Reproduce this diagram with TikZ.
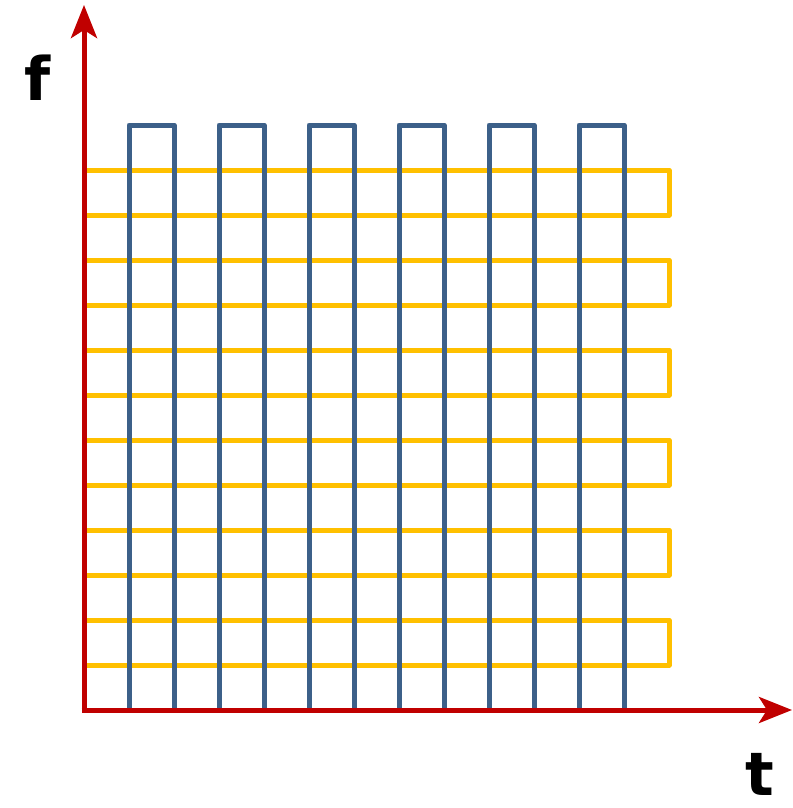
\documentclass[tikz,border=0pt]{standalone}
\usepackage{fontspec}
\setmainfont{DejaVu Sans}
\usetikzlibrary{arrows.meta}
\definecolor{axisred}{HTML}{C00000}
\definecolor{gridblue}{HTML}{3C6089}
\definecolor{gridyellow}{HTML}{FFC000}
\begin{document}
\begin{tikzpicture}[x=1pt,y=-1pt,
  axisline/.style={draw=axisred,line width=5pt,-{Stealth[length=33pt,width=26pt,inset=8pt]}},
  blueline/.style={draw=gridblue,line width=5pt,line join=round},
  yellowline/.style={draw=gridyellow,line width=5pt,line join=round},
  axislabel/.style={font=\fontsize{60}{60}\selectfont\bfseries,inner sep=0pt}]
\useasboundingbox (0,0) rectangle (792,808);
% yellow serpentine (rows)
\coordinate (ystart) at (84,170);
\draw[yellowline] (ystart)
  \foreach \r in {0,...,5} {
    -- (669,170+90*\r) -- (669,215+90*\r) -- (84,215+90*\r)
    \ifnum\r<5 -- (84,260+90*\r)\fi
  };
% blue serpentine (columns)
\coordinate (bstart) at (129,710);
\draw[blueline] (bstart)
  \foreach \c in {0,...,5} {
    -- (129+90*\c,125) -- (174+90*\c,125) -- (174+90*\c,710)
    \ifnum\c<5 -- (219+90*\c,710)\fi
  };
% axes
\coordinate (origin) at (84,710);
\coordinate (ftip) at (84,5);
\coordinate (ttip) at (792,710);
\draw[axisline] (origin) -- (ftip);
\draw[axisline] ([xshift=-2.5pt]origin) -- (ttip);
\node[axislabel,anchor=base] (flabel) at (38,100) {f};
\node[axislabel,anchor=base] (tlabel) at (760,795) {t};
\end{tikzpicture}
\end{document}
